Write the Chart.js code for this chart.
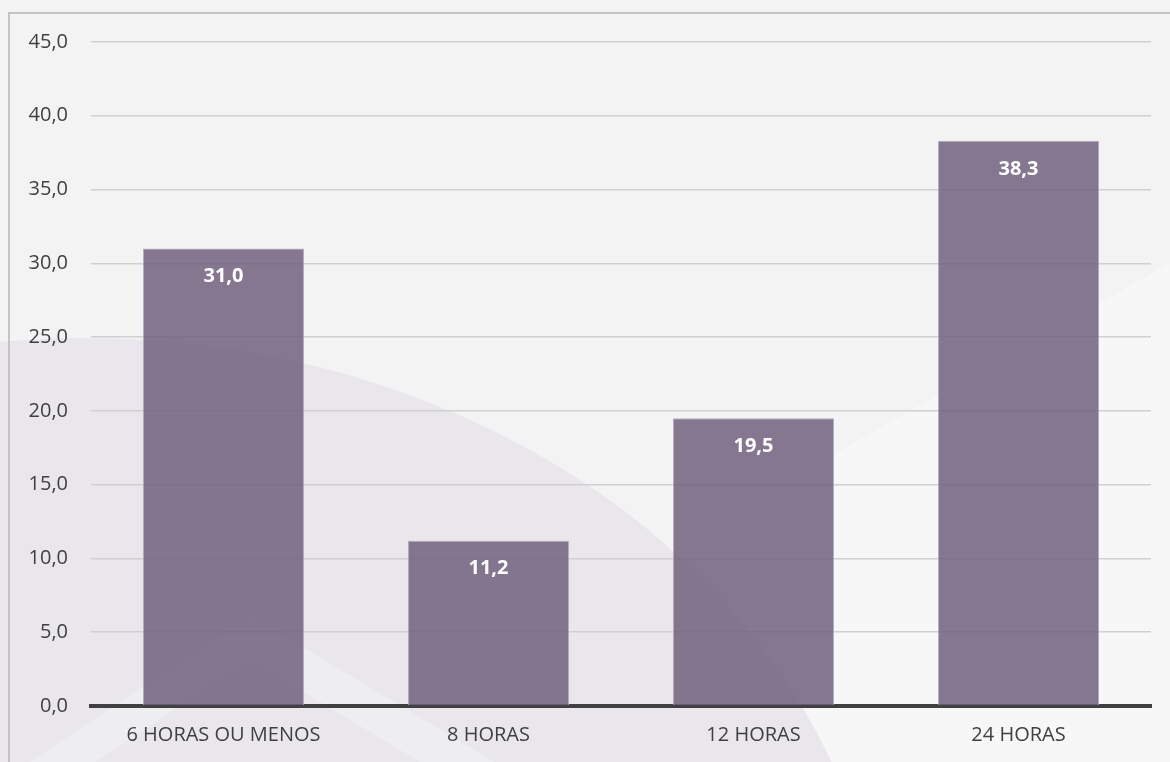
<!DOCTYPE html>
<html>
<head>
<meta charset="utf-8">
<script src="https://cdn.jsdelivr.net/npm/chart.js@4/dist/chart.umd.min.js"></script>
<style>
    html, body {
        margin: 0;
        padding: 0;
        background: #f3f3f3;
    }
    #wrap {
        position: relative;
        width: 1170px;
        height: 762px;
    }
</style>
</head>
<body>
<div id="wrap"><canvas id="chart"></canvas></div>
<script>
const categories = ['6 HORAS OU MENOS', '8 HORAS', '12 HORAS', '24 HORAS'];
const values = [31.0, 11.2, 19.5, 38.3];
const yTicks = [0, 5, 10, 15, 20, 25, 30, 35, 40, 45];

const textColor = '#404040';
const barColor = 'rgba(112, 96, 124, 0.85)';
const fontFamily = '"Open Sans", sans-serif';

function formatValue(v) {
    return v.toFixed(1).replace('.', ',');
}

// decorative slide background: soft arc + light diagonal panels, and the frame
const backgroundPlugin = {
    id: 'slideBackground',
    beforeDraw(chart) {
        const { ctx, width, height } = chart;
        ctx.save();
        ctx.fillStyle = '#f3f3f3';
        ctx.fillRect(0, 0, width, height);

        // lighter panel below the right diagonal
        ctx.fillStyle = '#f7f7f7';
        ctx.beginPath();
        ctx.moveTo(1170, 263);
        ctx.lineTo(560, 610);
        ctx.lineTo(560, 762);
        ctx.lineTo(1170, 762);
        ctx.closePath();
        ctx.fill();

        // big soft arc
        ctx.fillStyle = '#e9e7eb';
        ctx.beginPath();
        ctx.ellipse(85, 1000, 800, 662, 0, 0, Math.PI * 2);
        ctx.fill();

        // lighter chevrons at the bottom left
        ctx.fillStyle = '#eeedf0';
        ctx.beginPath();
        ctx.moveTo(30, 762);
        ctx.lineTo(250, 615);
        ctx.lineTo(494, 762);
        ctx.closePath();
        ctx.fill();
        ctx.fillStyle = '#e9e7eb';
        ctx.beginPath();
        ctx.moveTo(95, 762);
        ctx.lineTo(250, 660);
        ctx.lineTo(420, 762);
        ctx.closePath();
        ctx.fill();

        // frame
        ctx.strokeStyle = '#c4c4c4';
        ctx.lineWidth = 2;
        ctx.strokeRect(9, 13, 1200, 800);
        ctx.restore();
    },
};

const valueLabelPlugin = {
    id: 'valueLabels',
    afterDatasetsDraw(chart) {
        const { ctx } = chart;
        const meta = chart.getDatasetMeta(0);
        ctx.save();
        ctx.fillStyle = '#ffffff';
        ctx.font = 'bold 20px ' + fontFamily;
        ctx.textAlign = 'center';
        ctx.textBaseline = 'middle';
        meta.data.forEach((bar, i) => {
            ctx.fillText(formatValue(values[i]), bar.x, bar.y + 28);
        });
        ctx.restore();
    },
};

new Chart(document.getElementById('chart'), {
    type: 'bar',
    data: {
        labels: categories,
        datasets: [{
            data: values,
            backgroundColor: barColor,
            borderColor: 'rgba(175, 165, 188, 0.9)',
            borderWidth: 1,
            borderSkipped: 'bottom',
            categoryPercentage: 1,
            barPercentage: 0.608,
        }],
    },
    options: {
        responsive: true,
        maintainAspectRatio: false,
        animation: false,
        events: [],
        layout: {
            padding: { top: 42, right: 19, bottom: 0, left: 0 },
        },
        plugins: {
            legend: { display: false },
            tooltip: { enabled: false },
        },
        scales: {
            x: {
                grid: { display: false, drawTicks: false },
                border: { display: true, color: '#404040', width: 4 },
                ticks: {
                    color: textColor,
                    padding: 17,
                    font: { family: fontFamily, size: 20 },
                    maxRotation: 0,
                },
                afterFit(scale) {
                    scale.height = 56;
                },
            },
            y: {
                min: 0,
                max: 45,
                afterBuildTicks(scale) {
                    scale.ticks = yTicks.map((v) => ({ value: v }));
                },
                grid: {
                    color: '#d0d0d0',
                    lineWidth: 1.5,
                    drawTicks: false,
                },
                border: { display: false },
                ticks: {
                    color: textColor,
                    padding: 23,
                    font: { family: fontFamily, size: 20 },
                    callback: (v) => formatValue(v),
                },
                afterFit(scale) {
                    scale.width = 91;
                },
            },
        },
    },
    plugins: [backgroundPlugin, valueLabelPlugin],
});
</script>
</body>
</html>
